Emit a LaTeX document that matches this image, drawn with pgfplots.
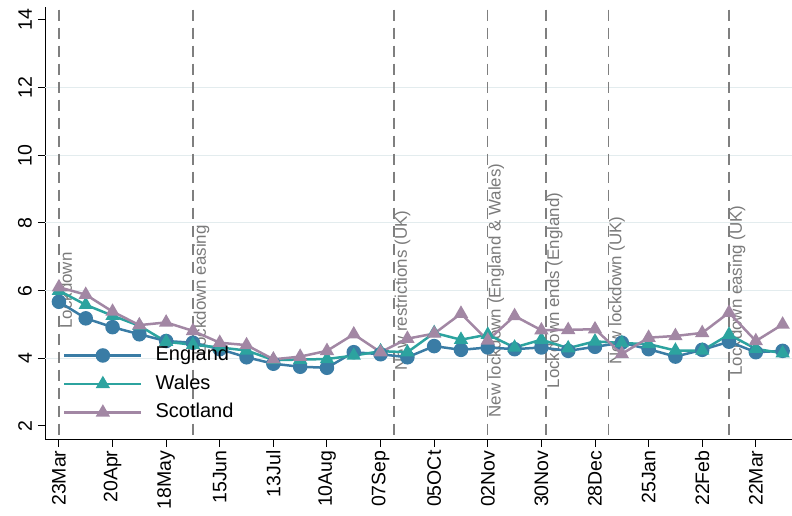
\documentclass[border=0pt]{standalone}
\usepackage{pgfplots}
\pgfplotsset{compat=1.18}
\usepackage{pgfplotstable}
\usepackage{fontspec}
\setmainfont{Liberation Sans}
\definecolor{eng}{HTML}{3A7CA5}
\definecolor{wal}{HTML}{2CA39F}
\definecolor{sco}{HTML}{A287A4}
\definecolor{vl}{HTML}{7F7F7F}
\definecolor{lbl}{HTML}{7A7A7A}
\definecolor{gridc}{HTML}{E3ECEE}

\pgfplotstableread{
w  eng  wal  sco
0  5.67 6.00 6.10
2  5.18 5.58 5.88
4  4.92 5.26 5.38
6  4.71 4.96 4.98
8  4.51 4.49 5.06
10 4.46 4.40 4.81
12 4.27 4.32 4.46
14 4.03 4.23 4.39
16 3.84 3.95 3.97
18 3.75 3.96 4.05
20 3.72 3.98 4.22
22 4.18 4.08 4.71
24 4.12 4.21 4.18
26 4.03 4.18 4.58
28 4.36 4.75 4.73
30 4.25 4.55 5.32
32 4.32 4.70 4.53
34 4.27 4.32 5.25
36 4.32 4.55 4.83
38 4.22 4.30 4.84
40 4.34 4.50 4.86
42 4.46 4.45 4.13
44 4.27 4.42 4.61
46 4.05 4.23 4.66
48 4.25 4.23 4.75
50 4.49 4.70 5.35
52 4.18 4.28 4.51
54 4.22 4.15 5.00
}\data

\begin{document}
\begin{tikzpicture}
\begin{axis}[
  at={(45bp,76bp)}, anchor=south west,
  scale only axis, width=747bp, height=433bp,
  xmin=-1.04, xmax=54.7, ymin=1.586, ymax=14.38,
  axis x line*=bottom, axis y line*=left,
  axis line style={black, line width=1bp},
  xtick={0,4,...,52},
  xticklabels={23Mar,20Apr,18May,15Jun,13Jul,10Aug,07Sep,05OCt,02Nov,30Nov,28Dec,25Jan,22Feb,22Mar},
  ytick={2,4,...,14},
  yticklabels={},
  extra y ticks={4,6,8,10,12},
  extra y tick labels={},
  extra y tick style={grid=major, major tick length=0pt},
  grid style={gridc, line width=1bp},
  tick align=outside, major tick length=7bp,
  tick style={black, line width=1bp},
  every tick label/.append style={font=\fontsize{19.5bp}{22bp}\selectfont},
  xticklabel style={rotate=90, anchor=east},
  clip=false,
  legend style={at={(axis description cs:0.024,0.217)}, anchor=north west,
    draw=none, fill=none, inner sep=0pt,
    font=\fontsize{20bp}{24bp}\selectfont,
    row sep=10bp, column sep=13bp,
    nodes={inner sep=0pt, text height=14.5bp, text depth=4bp, anchor=west}},
  legend cell align=left,
  legend image code/.code={\draw[line width=2.5bp,mark repeat=2,mark phase=2,#1] plot coordinates {(0bp,0bp)(38.5bp,0bp)(77bp,0bp)};},
]
% y tick labels, placed beside the ticks
\begin{scope}[every node/.style={rotate=90, anchor=south, inner sep=0pt, font=\fontsize{19.5bp}{22bp}\selectfont}]
\node at ([xshift=-13bp]axis cs:-1.04,2) {2};
\node at ([xshift=-13bp]axis cs:-1.04,4) {4};
\node at ([xshift=-13bp]axis cs:-1.04,6) {6};
\node at ([xshift=-13bp]axis cs:-1.04,8) {8};
\node at ([xshift=-13bp]axis cs:-1.04,10) {10};
\node at ([xshift=-13bp]axis cs:-1.04,12) {12};
\node at ([xshift=-13bp]axis cs:-1.04,14) {14};
\end{scope}
% event lines
\draw[vl, line width=1.3bp, dash pattern=on 11bp off 7bp] (axis cs:0,14.3) -- (axis cs:0,1.586);
\draw[vl, line width=1.3bp, dash pattern=on 11bp off 7bp] (axis cs:10,14.3) -- (axis cs:10,1.586);
\draw[vl, line width=1.3bp, dash pattern=on 11bp off 7bp] (axis cs:25,14.3) -- (axis cs:25,1.586);
\draw[vl, line width=1.3bp, dash pattern=on 11bp off 7bp] (axis cs:32,14.3) -- (axis cs:32,1.586);
\draw[vl, line width=1.3bp, dash pattern=on 11bp off 7bp] (axis cs:36.35,14.3) -- (axis cs:36.35,1.586);
\draw[vl, line width=1.3bp, dash pattern=on 11bp off 7bp] (axis cs:41,14.3) -- (axis cs:41,1.586);
\draw[vl, line width=1.3bp, dash pattern=on 11bp off 7bp] (axis cs:50,14.3) -- (axis cs:50,1.586);
\begin{scope}[every node/.style={rotate=90, anchor=north, inner sep=0.5bp, text=lbl, font=\fontsize{16.9bp}{20bp}\selectfont}]
\node at (axis cs:0,6) {Lockdown};
\node at (axis cs:10,6) {Lockdown easing};
\node at (axis cs:25,6) {New restrictions (UK)};
\node at (axis cs:32,6) {New lockdown (England \& Wales)};
\node at (axis cs:36.35,6) {Lockdown ends (England)};
\node at (axis cs:41,6) {New lockdown (UK)};
\node at (axis cs:50,6) {Lockdown easing (UK)};
\end{scope}
\addplot[eng, line width=2.5bp, mark=*, mark size=6bp, mark options={solid}] table[x=w,y=eng]{\data};
\addlegendentry{England}
\addplot[wal, line width=2.5bp, mark=triangle*, mark size=5.8bp, mark options={solid}] table[x=w,y=wal]{\data};
\addlegendentry{Wales}
\addplot[sco, line width=2.5bp, mark=triangle*, mark size=5.8bp, mark options={solid}] table[x=w,y=sco]{\data};
\addlegendentry{Scotland}
\end{axis}
\pgfresetboundingbox
\path[use as bounding box] (0,0) rectangle (792bp,516bp);
\end{tikzpicture}
\end{document}
